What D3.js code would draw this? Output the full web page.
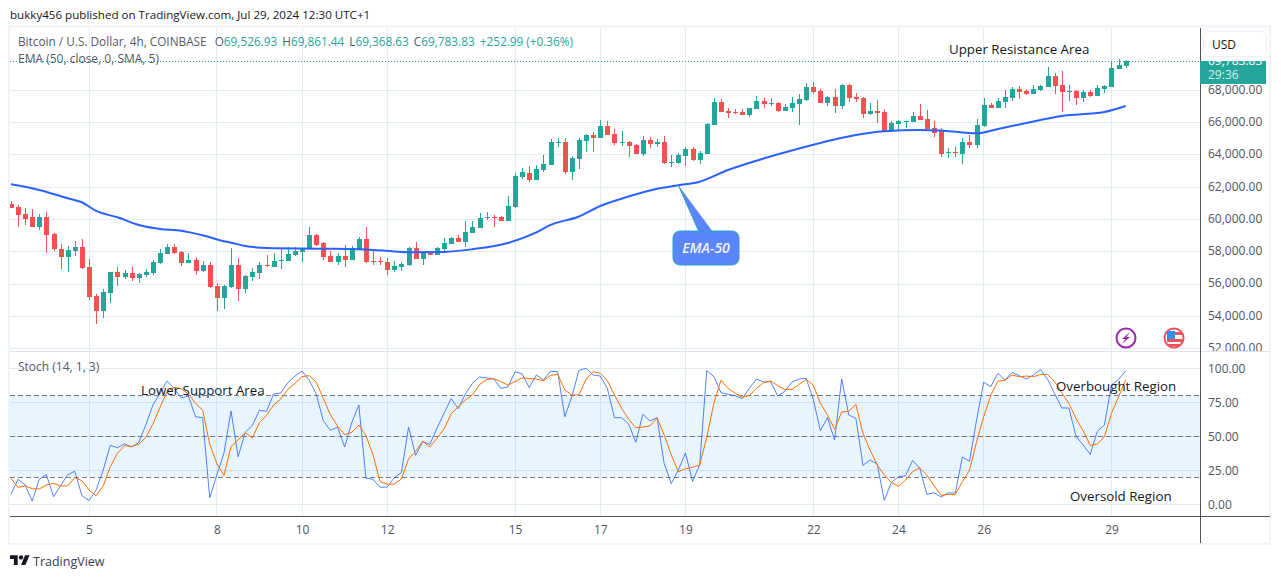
<!DOCTYPE html>
<html>
<head>
<meta charset="utf-8">
<title>BTC/USD 4h</title>
<script src="https://d3js.org/d3.v7.min.js"></script>
<style>
  html, body { margin: 0; padding: 0; background: #fff; }
  svg { display: block; }
  text { font-family: "Open Sans", sans-serif; }
</style>
</head>
<body>
<div id="chart"></div>
<script>
// candles, 4h
const candleOpen = [60962,60776,60343,60157,59538,60157,59105,58177,57681,58053,
  58300,57063,55268,54340,55453,56753,56444,56691,56382,56567,
  56691,57310,57867,58300,57991,57310,57496,56815,57186,55887,
  55144,55825,57186,55701,56444,56691,57186,57063,57455,57434,
  57805,57991,58177,59043,58549,57745,57373,57745,57497,58116,
  58797,57435,57435,57373,56878,57064,57188,58240,57559,57930,
  57806,58178,58487,58858,58611,59168,59477,60096,60158,60158,
  59911,60777,62634,62881,62448,63068,63377,64739,64800,62944,
  63748,64862,65234,65048,65791,65296,64739,64800,64615,64058,
  64925,64698,64801,63522,63501,63934,64368,63687,64058,65853,
  67277,66719,66658,66658,66472,66843,67338,67173,67215,66719,
  66905,67153,67400,68205,67957,67215,67586,67029,68329,67586,
  67524,66534,66719,66658,65482,65915,66059,66039,66410,66224,
  65668,65482,64121,64183,64059,64801,64616,65792,67091,66906,
  67277,67525,68081,67958,67772,68020,68205,68886,68329,67896,
  67958,67525,67896,67648,68081,68205,69319,69526.93];

const candleHigh = [61147,60900,60714,60652,60343,60467,59167,58486,58362,58672,
  58796,57558,55392,55701,56753,57063,56877,57063,56691,56939,
  57496,58177,58486,58486,58053,57929,57620,57434,57372,56073,
  55949,58239,57620,56567,57001,57372,57805,57929,58177,58300,
  58300,58239,59538,59105,58611,58054,57930,58425,58363,58920,
  59539,58054,57683,57621,57435,57373,58302,58611,57992,58054,
  58302,58858,58920,59044,59911,59911,60406,60468,60282,60220,
  61458,62881,63191,63315,63377,63996,64986,65048,65048,63934,
  65048,65296,65419,66162,66100,65605,65481,64862,64677,65172,
  65110,64986,65172,63996,64120,64491,64491,64244,65977,67524,
  67462,66905,66843,66843,66905,67648,67524,67524,67277,67153,
  67586,67772,68452,68514,68081,67648,68081,68391,68391,67834,
  67586,67215,67400,66843,66101,66163,66101,66658,67153,66781,
  66101,65668,64430,64492,65049,65234,66225,67525,67215,67525,
  68020,68205,68267,68081,68329,68329,69443,69072,69195,68329,
  68020,68020,68020,68329,68329,69815,69938,69861.44];

const candleLow = [60714,59559,59662,59538,59353,57929,58053,56939,56753,57743,
  56939,55020,53535,53906,54835,55887,56320,56196,56073,56444,
  56567,57248,57867,57867,57125,57310,56567,56753,55763,54340,
  54463,55763,54958,55453,56196,56320,57063,57063,56939,57434,
  57743,57372,58177,58362,57497,57373,57188,57064,57497,58116,
  57311,57188,57188,56569,56754,56816,57126,57559,57188,57806,
  57806,58054,58487,58611,58302,59168,59477,59973,59539,59911,
  59911,60715,62510,62324,62448,62944,63377,64491,62820,62449,
  63129,64182,64182,65048,65234,64615,64553,63872,64058,63934,
  64430,64491,63439,63254,63439,63316,63625,63439,64058,65853,
  66658,66286,66534,66472,66348,66843,66905,67029,66658,66719,
  66658,65853,67338,67772,67215,67029,66596,66843,67277,67277,
  66286,66472,65977,65420,65420,65544,65667,66039,66163,65605,
  65111,63873,63811,63873,63440,64430,64430,65730,66906,66906,
  66906,67339,67463,67710,67772,67958,68205,67772,66658,67339,
  67091,67277,67586,67648,67834,68205,69319,69368.63];

const candleClose = [60714,60281,60033,59538,60157,59043,58177,57681,58115,58300,
  57001,55206,54340,55515,56753,56444,56691,56382,56629,56753,
  57372,57929,58300,57929,57310,57496,56815,57186,55825,55144,
  55887,57186,55701,56506,56753,57186,57125,57434,57496,57867,
  58053,58239,59043,58424,57683,57373,57745,57497,58240,58797,
  57373,57394,57394,56878,57126,57250,58240,57559,57930,57806,
  58240,58549,58858,58611,59230,59539,60096,60158,60096,59911,
  60839,62696,62943,62448,63129,63439,64800,64800,62944,63810,
  64924,65234,65048,65791,65234,64739,64800,64553,64058,64925,
  64677,64801,63501,63563,63996,64368,63687,64120,65915,67277,
  66658,66596,66596,66472,66905,67338,67153,67215,66719,66967,
  67215,67462,68205,67895,67215,67586,67029,68329,67524,67462,
  66534,66719,66596,65420,65977,66101,66101,66410,66163,65605,
  65358,64059,64183,64121,64801,64616,65854,67091,66906,67339,
  67586,68081,67896,67772,68081,68267,68886,68267,67896,67958,
  67525,67896,67648,68143,68267,69381,69567,69783.83];

// EMA 50, read at these candles
const emaIndex = [0,4,8,10,12,15,18,21,24,27,30,31,33,36,44,50,54,56,61,65,70,74,76,80,83,87,91,94,97,101,106,111,116,119,123,128,131,134,136,139,143,148,154,157];
const emaValue = [62181,61829,61315,61067,60529,60139,59662,59414,59309,59024,58653,58566,58362,58238,58195,58146,58022,57972,57991,58158,58548,59198,59662,60188,60838,61426,61909,62120,62342,63067,63778,64397,64955,65233,65462,65543,65512,65388,65338,65604,65976,66409,66657,67028];

// stochastic %K
const stochK = [7.3,18.4,14.2,2.4,18.4,21.8,5.6,13.7,21.8,24.3,
  6.4,2.7,10.5,25.2,43.4,41.6,44.4,42.1,45.3,58.3,
  73,81.6,90.7,85,78.2,79.6,64.4,63.7,4.9,21.5,
  37.5,68.6,35,52.9,58.1,69.1,68.4,81.1,81.8,89.4,
  94.3,98,91.4,81.1,61.3,54.4,56.8,42.1,60,73,
  19.3,18.4,12.5,12.7,19.6,23.3,56.8,36,46.1,44.1,
  55.9,66.9,77.7,70.3,81.1,89,93.6,92.9,92.1,85.3,
  86.3,97.5,95.8,85.8,95.1,91.4,97.8,97.5,64.4,79.2,
  98.5,100,95.1,94.3,85.3,63.7,63.7,59.1,45.6,66.2,
  61.3,63.7,30.1,15.2,25.2,37.7,16.9,28.9,98.3,93.9,
  82.1,80.9,79.9,77.7,85.3,92.1,89.9,90.2,79.6,83.1,
  89.9,92.1,92.6,77.2,54.2,63.7,47.3,92.1,65.7,63.2,
  28.6,32.6,29.6,2.9,16.1,20.3,21,32.3,26.4,7.3,
  8.5,5.4,8.3,8.3,34.8,31.6,62,89.7,86.5,96.3,
  91.4,97,94.6,92.1,95.1,99.2,91.9,81.3,70.8,70.8,
  50,43.6,36.7,53.6,58.3,87.7,91.9,98];

// stochastic %D
const stochD = [19.3,12.5,13.5,11.5,11.3,14.2,15.4,13.5,13.5,19.6,
  17.4,10.5,6.4,13.5,27.7,37.5,43.1,42.6,44.1,49.2,
  59,71.3,82.8,86,85,81.1,74.3,69.3,44.3,30.1,
  21.1,42.4,47.3,52.7,48.8,60,65.4,73,77.4,84.5,
  89,93.9,94.6,89.9,77.9,65.7,57.6,51.2,52.9,58.3,
  50.5,36.3,16.6,14.7,14.9,18.6,33.3,38.9,46.3,42.1,
  48.5,55.4,66.4,71.8,76.7,80.4,88,91.7,92.4,90.2,
  87.7,90.2,93.1,92.4,92.1,90.9,94.8,95.6,84.1,80.4,
  80.4,91.9,97.5,96.3,90.9,80.4,70.6,62.5,56.4,56.8,
  57.6,63.5,51,36.3,23.8,26.2,27.2,28.9,49.2,74.3,
  91.2,85.3,81.6,78.9,79.9,85.3,89.4,90.7,87.2,84.5,
  84.5,88.2,91.7,87.7,74.3,65.7,55.1,67.9,68.4,73.5,
  52.2,39.9,28.9,21.5,16.1,13.2,17.9,24,26.7,21.5,
  13.7,6.6,7.3,7.3,16.6,25,46,64.4,80.1,90.6,
  91.1,95,93.8,94.3,93.8,95.5,95.5,90.2,82.1,74.2,
  63.2,54.1,43.3,44.3,49.7,66.9,79.1,91.4];

// axis ticks
const dayIndex = [11,29,41,53,71,83,95,113,125,137,155];
const dayLabels = ["5","8","10","12","15","17","19","22","24","26","29"];
const priceTicks = [52000,54000,56000,58000,60000,62000,64000,66000,68000];
const stochTicks = [0,25,50,75,100];
const stochDashes = [20,50,80];

const lastOHLC = [["O","69,526.93"],["H","69,861.44"],["L","69,368.63"],["C","69,783.83"]];

const width = 1281, height = 579;
const plotLeft = 10, plotRight = 1200, plotTop = 28, paneSplit = 351, timeAxisY = 516, frameBottom = 544, frameRight = 1269;

const gridColor = "#e3ebf2", axisColor = "#50535e", labelColor = "#50535e";
const upColor = "#26a69a", downColor = "#ef5350";

const x = d3.scaleLinear().domain([0, 157]).range([10.9, 1125.7]);
const y = d3.scaleLinear().domain([52000, 68000]).range([348.7, 90.3]);
const yStoch = d3.scaleLinear().domain([0, 100]).range([504.3, 368.3]);

const svg = d3.select("#chart").append("svg")
  .attr("width", width)
  .attr("height", height);

// recortes de los paneles
const defs = svg.append("defs");
defs.append("clipPath").attr("id", "clipPrice").append("rect")
  .attr("x", plotLeft).attr("y", plotTop).attr("width", plotRight - plotLeft).attr("height", paneSplit - plotTop);
defs.append("clipPath").attr("id", "clipStoch").append("rect")
  .attr("x", plotLeft).attr("y", paneSplit).attr("width", plotRight - plotLeft).attr("height", timeAxisY - paneSplit);
defs.append("clipPath").attr("id", "clipAxisTop").append("rect")
  .attr("x", plotRight + 1).attr("y", plotTop).attr("width", frameRight - plotRight).attr("height", paneSplit - plotTop);
defs.append("clipPath").attr("id", "clipTag").append("rect")
  .attr("x", plotRight).attr("y", 61).attr("width", 66).attr("height", 23);

// header
svg.append("text").attr("x", 10).attr("y", 19)
  .attr("font-size", 11.6).attr("fill", "#131722")
  .text("bukky456 published on TradingView.com, Jul 29, 2024 12:30 UTC+1");

// frame
svg.append("rect")
  .attr("x", 9).attr("y", 26.5)
  .attr("width", frameRight - 9 + 1).attr("height", frameBottom - 26.5)
  .attr("fill", "none").attr("stroke", "#f0f3fa").attr("stroke-width", 2);

// grid
const grid = svg.append("g").attr("shape-rendering", "crispEdges").attr("stroke", gridColor);
grid.selectAll(".hp").data(priceTicks).enter().append("line")
  .attr("x1", plotLeft).attr("x2", plotRight)
  .attr("y1", d => y(d)).attr("y2", d => y(d));
grid.selectAll(".hs").data(stochTicks).enter().append("line")
  .attr("x1", plotLeft).attr("x2", plotRight)
  .attr("y1", d => yStoch(d)).attr("y2", d => yStoch(d));
grid.selectAll(".v").data(dayIndex).enter().append("line")
  .attr("x1", d => x(d)).attr("x2", d => x(d))
  .attr("y1", plotTop).attr("y2", timeAxisY);

// stoch band and levels
svg.append("rect")
  .attr("x", plotLeft).attr("width", plotRight - plotLeft)
  .attr("y", yStoch(80)).attr("height", yStoch(20) - yStoch(80))
  .attr("fill", "#2196f3").attr("fill-opacity", 0.1);
svg.selectAll(".level").data(stochDashes).enter().append("line")
  .attr("x1", plotLeft).attr("x2", plotRight)
  .attr("y1", d => yStoch(d)).attr("y2", d => yStoch(d))
  .attr("stroke", "#787b86").attr("stroke-dasharray", "5,3")
  .attr("shape-rendering", "crispEdges");

// last price line
svg.append("line")
  .attr("x1", plotLeft).attr("x2", plotRight)
  .attr("y1", y(candleClose[157])).attr("y2", y(candleClose[157]))
  .attr("stroke", upColor).attr("stroke-dasharray", "1,2");

// candles
const candles = svg.append("g").attr("clip-path", "url(#clipPrice)").attr("shape-rendering", "crispEdges");
const bars = candles.selectAll("g").data(candleOpen).enter().append("g")
  .attr("fill", (d, i) => candleClose[i] >= d ? upColor : downColor);
bars.append("rect")
  .attr("x", (d, i) => Math.round(x(i)))
  .attr("width", 1)
  .attr("y", (d, i) => y(candleHigh[i]))
  .attr("height", (d, i) => y(candleLow[i]) - y(candleHigh[i]));
bars.append("rect")
  .attr("x", (d, i) => Math.round(x(i)) - 2)
  .attr("width", 5)
  .attr("y", (d, i) => y(Math.max(d, candleClose[i])))
  .attr("height", (d, i) => Math.max(1, Math.abs(y(d) - y(candleClose[i]))));

// EMA line
const emaLine = d3.line()
  .x((d, i) => x(emaIndex[i]))
  .y(d => y(d))
  .curve(d3.curveMonotoneX);
svg.append("path")
  .datum(emaValue)
  .attr("clip-path", "url(#clipPrice)")
  .attr("fill", "none").attr("stroke", "#2962ff").attr("stroke-width", 2)
  .attr("d", emaLine);

// stochastic lines
const stochLine = d3.line().x((d, i) => x(i)).y(d => yStoch(d));
const stochPane = svg.append("g").attr("clip-path", "url(#clipStoch)").attr("fill", "none");
stochPane.append("path").datum(stochK).attr("stroke", "#2962ff").attr("stroke-width", 1).attr("stroke-opacity", 0.8).attr("d", stochLine);
stochPane.append("path").datum(stochD).attr("stroke", "#ff6d00").attr("stroke-width", 1).attr("d", stochLine);

// pane borders
svg.append("line").attr("x1", plotLeft).attr("x2", frameRight + 1)
  .attr("y1", paneSplit).attr("y2", paneSplit)
  .attr("stroke", "#e0e3eb").attr("shape-rendering", "crispEdges");
svg.append("line").attr("x1", plotLeft).attr("x2", frameRight + 1)
  .attr("y1", timeAxisY).attr("y2", timeAxisY)
  .attr("stroke", axisColor).attr("shape-rendering", "crispEdges");
svg.append("line").attr("x1", plotRight).attr("x2", plotRight)
  .attr("y1", plotTop).attr("y2", frameBottom - 1)
  .attr("stroke", axisColor).attr("shape-rendering", "crispEdges");

// axes
function cleanAxis(g) {
  g.select(".domain").remove();
  g.selectAll(".tick line").remove();
  g.selectAll("text").attr("font-size", 12).attr("font-family", '"Open Sans", sans-serif').attr("fill", labelColor);
}
// the clip sits on an outer group so it stays in page coordinates
svg.append("g")
  .attr("clip-path", "url(#clipAxisTop)")
  .append("g")
  .attr("transform", `translate(${plotRight},-1)`)
  .call(d3.axisRight(y).tickValues(priceTicks).tickFormat(d3.format(",.2f")).tickSize(0).tickPadding(8))
  .call(cleanAxis);
svg.append("g")
  .attr("transform", `translate(${plotRight},0)`)
  .call(d3.axisRight(yStoch).tickValues(stochTicks).tickFormat(d3.format(".2f")).tickSize(0).tickPadding(8))
  .call(cleanAxis);
svg.append("g")
  .attr("transform", `translate(0,${timeAxisY})`)
  .call(d3.axisBottom(x).tickValues(dayIndex).tickFormat((d, i) => dayLabels[i]).tickSize(0).tickPadding(9))
  .call(cleanAxis);

// legend
const legend = svg.append("text").attr("x", 18).attr("y", 46).attr("font-size", 11.8).attr("fill", "#555a66");
legend.append("tspan").text("Bitcoin / U.S. Dollar, 4h, COINBASE");
lastOHLC.forEach((d, i) => {
  legend.append("tspan").attr("dx", i ? 5 : 8).text(d[0]);
  legend.append("tspan").attr("fill", upColor).text(d[1]);
});
legend.append("tspan").attr("dx", 5).attr("fill", upColor).text("+252.99 (+0.36%)");
svg.append("text").attr("x", 18).attr("y", 63).attr("font-size", 12).attr("fill", "#555a66")
  .text("EMA (50, close, 0, SMA, 5)");
svg.append("text").attr("x", 18).attr("y", 371).attr("font-size", 12).attr("fill", "#555a66")
  .text("Stoch (14, 1, 3)");

// USD box and last price tag
svg.append("rect").attr("x", 1203.5).attr("y", 31.5).attr("width", 63).attr("height", 25).attr("rx", 5)
  .attr("fill", "#fff").attr("stroke", "#eceff5");
svg.append("text").attr("x", 1212).attr("y", 49).attr("font-size", 12).attr("fill", "#131722").text("USD");
svg.append("rect").attr("x", plotRight).attr("y", 61).attr("width", 66).attr("height", 23).attr("fill", upColor);
svg.append("text").attr("x", 1208).attr("y", 65).attr("font-size", 12).attr("fill", "#fff")
  .attr("clip-path", "url(#clipTag)").text("69,783.83");
svg.append("text").attr("x", 1208).attr("y", 79).attr("font-size", 12).attr("fill", "#d4efec").text("29:36");

// annotations
const notes = [
  ["Upper Resistance Area", 949, 54],
  ["Lower Support Area", 141, 395],
  ["Overbought Region", 1056, 391],
  ["Oversold Region", 1070, 501]
];
svg.selectAll(".note").data(notes).enter().append("text")
  .attr("x", d => d[1]).attr("y", d => d[2])
  .attr("font-size", 13.3).attr("fill", "#131722")
  .text(d => d[0]);

// EMA-50 callout, tail points at the line
const tipX = x(94), tipY = y(62120);
const callout = svg.append("g").attr("fill", "#5b86fa").attr("stroke", "#2a9fc4").attr("stroke-width", 1);
callout.append("rect").attr("x", 673).attr("y", 231).attr("width", 66).attr("height", 34).attr("rx", 7);
callout.append("path").attr("d", `M${tipX},${tipY}L699,232L713,232`);
svg.append("text").attr("x", 706).attr("y", 253).attr("text-anchor", "middle")
  .attr("font-size", 14).attr("font-style", "italic").attr("font-weight", 600).attr("fill", "#eef3ff")
  .text("EMA-50");

// event icons
svg.append("circle").attr("cx", 1126).attr("cy", 338).attr("r", 9.5)
  .attr("fill", "#fff").attr("stroke", "#9c27b0").attr("stroke-width", 2);
svg.append("path").attr("d", "M1130,332L1122,339L1125.5,339L1122,344L1130,337L1126.5,337Z").attr("fill", "#9c27b0");
svg.append("circle").attr("cx", 1174).attr("cy", 338).attr("r", 9.5)
  .attr("fill", "#fff").attr("stroke", "#f04f5e").attr("stroke-width", 2);
svg.append("rect").attr("x", 1167).attr("y", 332).attr("width", 15).attr("height", 3).attr("fill", "#f04f5e");
svg.append("rect").attr("x", 1167).attr("y", 339).attr("width", 15).attr("height", 3).attr("fill", "#f04f5e");
svg.append("rect").attr("x", 1168).attr("y", 344).attr("width", 12).attr("height", 2).attr("fill", "#f04f5e");
svg.append("rect").attr("x", 1167).attr("y", 331).attr("width", 8).attr("height", 8).attr("fill", "#2f8ff0");

// TradingView mark
const logo = svg.append("g").attr("transform", "translate(10,553) scale(0.55)").attr("fill", "#131722");
logo.append("path").attr("d", "M14 22H7V11H0V4h14v18zM28 22h-8l7.5-18h8L28 22z");
logo.append("circle").attr("cx", 20).attr("cy", 8).attr("r", 4);
svg.append("text").attr("x", 33).attr("y", 566).attr("font-size", 12.5).attr("fill", "#3a3e4a").text("TradingView");
</script>
</body>
</html>
